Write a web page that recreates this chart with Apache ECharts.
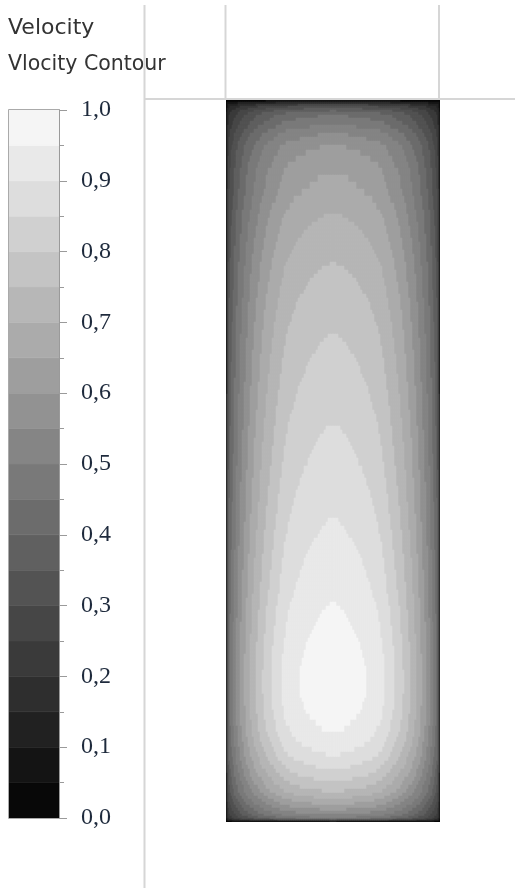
<!DOCTYPE html>
<html>
<head>
<meta charset="utf-8">
<script src="https://cdn.jsdelivr.net/npm/echarts@6/dist/echarts.min.js"></script>
<style>
  html, body { margin: 0; padding: 0; background: #ffffff; }
  #chart { width: 515px; height: 888px; }
</style>
</head>
<body>
<div id="chart"></div>
<script>
// Channel cross-section (mm)
const channelWidth = 21.4;
const channelDepth = 72.2;

// Cross-stream velocity profile, from the side wall to the centreline (cell edges in mm, normalised velocity)
const crossEdges = [0, 0.1, 0.2, 0.3, 0.4, 0.5, 0.6, 0.7, 0.8,
  1.0, 1.2, 1.4, 1.6, 1.8, 2.0, 2.2, 2.4, 2.6, 2.8,
  3.0, 3.2, 3.4, 3.6, 3.8, 4.0, 4.2, 4.4, 4.6, 4.8,
  5.0, 5.2, 5.4, 5.6, 5.8, 6.0, 6.2, 6.4, 6.6, 6.8,
  7.0, 7.2, 7.4, 7.6, 7.8, 8.0, 8.2, 8.4, 8.6, 8.8,
  9.0, 9.2, 9.4, 9.6, 9.8, 10.0, 10.2, 10.4, 10.6, 10.7];
const crossProfile = [0.12, 0.30, 0.40, 0.45, 0.47, 0.49, 0.505, 0.52,
  0.545, 0.574, 0.60, 0.625, 0.645, 0.665, 0.686, 0.706, 0.724, 0.741,
  0.758, 0.772, 0.786, 0.80, 0.814, 0.827, 0.84, 0.851, 0.862, 0.872,
  0.882, 0.892, 0.902, 0.912, 0.921, 0.929, 0.936, 0.942, 0.947, 0.951,
  0.956, 0.9605, 0.9645, 0.968, 0.9713, 0.9743, 0.977, 0.98, 0.983, 0.985,
  0.987, 0.989, 0.991, 0.993, 0.995, 0.9965, 0.998, 0.999, 1.0, 1.0];

// Velocity profile down the centreline, from the top wall to the bottom wall (cell edges in mm, normalised velocity)
const depthEdges = [0, 0.2, 0.4, 0.6, 0.8, 1.0, 1.2, 1.5, 1.8, 2.1, 2.5, 2.9, 3.3, 3.7, 4.1, 4.5,
  5.0, 5.6, 6.2, 6.8, 7.5, 8.2, 8.9, 9.6, 10.3, 11.0,
  11.4, 11.8, 12.2, 12.6, 13.0, 13.4, 13.8, 14.2, 14.6, 15.0,
  15.4, 15.8, 16.2, 16.6, 17.0, 17.4, 17.8, 18.2, 18.6, 19.0,
  19.4, 19.8, 20.2, 20.6, 21.0, 21.4, 21.8, 22.2, 22.6, 23.0,
  23.4, 23.8, 24.2, 24.6, 25.0, 25.4, 25.8, 26.2, 26.6, 27.0,
  27.4, 27.8, 28.2, 28.6, 29.0, 29.4, 29.8, 30.2, 30.6, 31.0,
  31.4, 31.8, 32.2, 32.6, 33.0, 33.4, 33.8, 34.2, 34.6, 35.0,
  35.4, 35.8, 36.2, 36.6, 37.0, 37.4, 37.8, 38.2, 38.6, 39.0,
  39.4, 39.8, 40.2, 40.6, 41.0, 41.4, 41.8, 42.2, 42.6, 43.0,
  43.4, 43.8, 44.2, 44.6, 45.0, 45.4, 45.8, 46.2, 46.6, 47.0,
  47.4, 47.8, 48.2, 48.6, 49.0, 49.4, 49.8, 50.2, 50.6, 51.0,
  51.4, 51.8, 52.2, 52.6, 53.0, 53.4, 53.8, 54.2, 54.6, 55.0,
  55.4, 55.8, 56.2, 56.6, 57.0, 57.4, 57.8, 58.2, 58.6, 59.0,
  59.4, 59.8, 60.2, 60.6, 61.0, 61.4,
  62.0, 62.6, 63.2, 63.7, 64.2, 64.7, 65.2, 65.7, 66.1, 66.5, 66.9, 67.3, 67.7, 68.1,
  68.5, 68.9, 69.3, 69.6, 69.9, 70.2, 70.5, 70.8, 71.1, 71.4, 71.6, 71.8, 71.9, 72.0,
  72.1, 72.2];
const depthProfile = [0.06, 0.17, 0.26, 0.32, 0.36, 0.40, 0.43, 0.455, 0.47, 0.49, 0.51, 0.535,
  0.555, 0.57, 0.59, 0.605, 0.615, 0.627, 0.638, 0.648, 0.656, 0.663, 0.671, 0.68, 0.69,
  0.699, 0.703, 0.707, 0.711, 0.715, 0.719, 0.723, 0.727, 0.731, 0.735,
  0.739, 0.743, 0.747, 0.7505, 0.754, 0.757, 0.760, 0.763, 0.766, 0.769,
  0.772, 0.775, 0.778, 0.781, 0.784, 0.7865, 0.789, 0.7915, 0.794, 0.7965,
  0.799, 0.8015, 0.804, 0.806, 0.808, 0.810, 0.8125, 0.815, 0.817, 0.819,
  0.821, 0.8235, 0.826, 0.828, 0.830, 0.832, 0.834, 0.8365, 0.839, 0.841,
  0.843, 0.845, 0.847, 0.8495, 0.852, 0.854, 0.856, 0.858, 0.860, 0.862,
  0.864, 0.866, 0.868, 0.870, 0.8725, 0.875, 0.877, 0.879, 0.881, 0.883,
  0.885, 0.887, 0.8895, 0.892, 0.894, 0.896, 0.8985, 0.901, 0.903, 0.9055,
  0.908, 0.910, 0.9125, 0.915, 0.917, 0.919, 0.9215, 0.924, 0.926, 0.928,
  0.9305, 0.933, 0.935, 0.9375, 0.940, 0.942, 0.9455, 0.948, 0.9505, 0.953,
  0.9555, 0.958, 0.960, 0.962, 0.964, 0.966, 0.968, 0.971, 0.973, 0.975,
  0.9765, 0.978, 0.9795, 0.981, 0.982, 0.983, 0.9835, 0.984, 0.984, 0.9835,
  0.983, 0.9815, 0.98, 0.978, 0.9755, 0.973,
  0.969, 0.962, 0.955, 0.948, 0.938, 0.927, 0.915, 0.903, 0.89, 0.875, 0.86, 0.845,
  0.83, 0.812, 0.795, 0.775, 0.755, 0.735, 0.71, 0.685, 0.66, 0.635, 0.605, 0.575,
  0.545, 0.51, 0.47, 0.40, 0.28, 0.10];

// Contour bands (lower bound of each band) and their grey levels
const contourLevels = [0, 0.05, 0.1, 0.15, 0.2, 0.25, 0.3, 0.35, 0.4, 0.45,
  0.5, 0.55, 0.6, 0.65, 0.7, 0.75, 0.8, 0.85, 0.9, 0.95];
const bandColors = ['#080808', '#141414', '#212121', '#2e2e2e', '#3a3a3a', '#464646',
  '#535353', '#606060', '#6c6c6c', '#797979', '#858585', '#929292', '#9e9e9e', '#ababab',
  '#b7b7b7', '#c4c4c4', '#d0d0d0', '#dddddd', '#e9e9e9', '#f5f5f5'];
const bandStep = 0.05;

// Colour-scale tick labels, 0,0 ... 1,0
const scaleLabels = ['0,0', '0,1', '0,2', '0,3', '0,4', '0,5', '0,6', '0,7', '0,8', '0,9', '1,0'];

// Cells of the velocity field: [x0, x1, y0, y1, value], mirrored about the centreline
const fieldCells = [];
for (let i = 0; i < crossProfile.length; i++) {
  for (let j = 0; j < depthProfile.length; j++) {
    const v = crossProfile[i] * depthProfile[j];
    const y0 = depthEdges[j], y1 = depthEdges[j + 1];
    fieldCells.push([crossEdges[i], crossEdges[i + 1], y0, y1, v]);
    fieldCells.push([channelWidth - crossEdges[i + 1], channelWidth - crossEdges[i], y0, y1, v]);
  }
}

// Cells of the colour scale bar
const scaleCells = contourLevels.map(lo => [0, 1, lo, lo + bandStep, lo + bandStep / 2]);

const pieces = contourLevels.map((lo, k) => {
  const p = { gte: lo, color: bandColors[k] };
  if (k === contourLevels.length - 1) p.lte = lo + bandStep; else p.lt = lo + bandStep;
  return p;
});

function renderCell(params, api) {
  const p0 = api.coord([api.value(0), api.value(2)]);
  const p1 = api.coord([api.value(1), api.value(3)]);
  const color = api.visual('color');
  return {
    type: 'rect',
    silent: true,
    shape: {
      x: Math.min(p0[0], p1[0]),
      y: Math.min(p0[1], p1[1]),
      width: Math.abs(p1[0] - p0[0]),
      height: Math.abs(p1[1] - p0[1])
    },
    style: { fill: color, stroke: color, lineWidth: 0.6 }
  };
}

const frameColor = '#d6d6d6';
const tickColor = '#9a9a9a';
const chart = echarts.init(document.getElementById('chart'), null, { renderer: 'canvas' });
chart.setOption({
  backgroundColor: '#ffffff',
  animation: false,
  title: {
    text: 'Velocity',
    subtext: 'Vlocity Contour',
    left: 3,
    top: 12,
    itemGap: 15,
    textStyle: { fontFamily: 'DejaVu Sans', fontSize: 22, fontWeight: 'normal', color: '#333333' },
    subtextStyle: { fontFamily: 'DejaVu Sans', fontSize: 20.5, color: '#333333' }
  },
  grid: [
    { left: 226, top: 100, width: 214, height: 722, show: false },
    { left: 9, top: 110, width: 50, height: 708, show: false }
  ],
  xAxis: [
    { type: 'value', gridIndex: 0, min: 0, max: channelWidth, show: false },
    { type: 'value', gridIndex: 1, min: 0, max: 1, show: false }
  ],
  yAxis: [
    { type: 'value', gridIndex: 0, min: 0, max: channelDepth, inverse: true, show: false },
    {
      type: 'value', gridIndex: 1, min: 0, max: 1, interval: 0.1, position: 'right', z: 10,
      axisLine: { show: true, onZero: false, lineStyle: { color: tickColor, width: 1 } },
      axisTick: { show: true, length: 8, lineStyle: { color: tickColor, width: 1 } },
      minorTick: { show: true, splitNumber: 2, length: 5, lineStyle: { color: tickColor, width: 1 } },
      splitLine: { show: false },
      axisLabel: {
        margin: 22,
        fontFamily: '"Liberation Serif", serif',
        fontSize: 24,
        color: '#1e2a3c',
        formatter: v => scaleLabels[Math.round(v * 10)]
      }
    }
  ],
  visualMap: {
    type: 'piecewise',
    show: false,
    dimension: 4,
    seriesIndex: [0, 1],
    pieces: pieces
  },
  series: [
    {
      type: 'custom',
      xAxisIndex: 0,
      yAxisIndex: 0,
      encode: { x: [0, 1], y: [2, 3] },
      renderItem: renderCell,
      clip: true,
      progressive: 0,
      data: fieldCells
    },
    {
      type: 'custom',
      xAxisIndex: 1,
      yAxisIndex: 1,
      encode: { x: [0, 1], y: [2, 3] },
      renderItem: renderCell,
      data: scaleCells
    }
  ],
  graphic: [
    { type: 'line', z: 10, shape: { x1: 144.5, y1: 5, x2: 144.5, y2: 888 }, style: { stroke: frameColor, lineWidth: 2 } },
    { type: 'line', z: 10, shape: { x1: 144.5, y1: 99, x2: 515, y2: 99 }, style: { stroke: frameColor, lineWidth: 2 } },
    { type: 'line', z: 10, shape: { x1: 225.5, y1: 5, x2: 225.5, y2: 99 }, style: { stroke: frameColor, lineWidth: 2 } },
    { type: 'line', z: 10, shape: { x1: 439, y1: 5, x2: 439, y2: 99 }, style: { stroke: frameColor, lineWidth: 2 } },
    { type: 'rect', z: 10, shape: { x: 8.5, y: 109.5, width: 51, height: 709 }, style: { fill: 'none', stroke: '#aaaaaa', lineWidth: 1 } }
  ]
});
</script>
</body>
</html>
